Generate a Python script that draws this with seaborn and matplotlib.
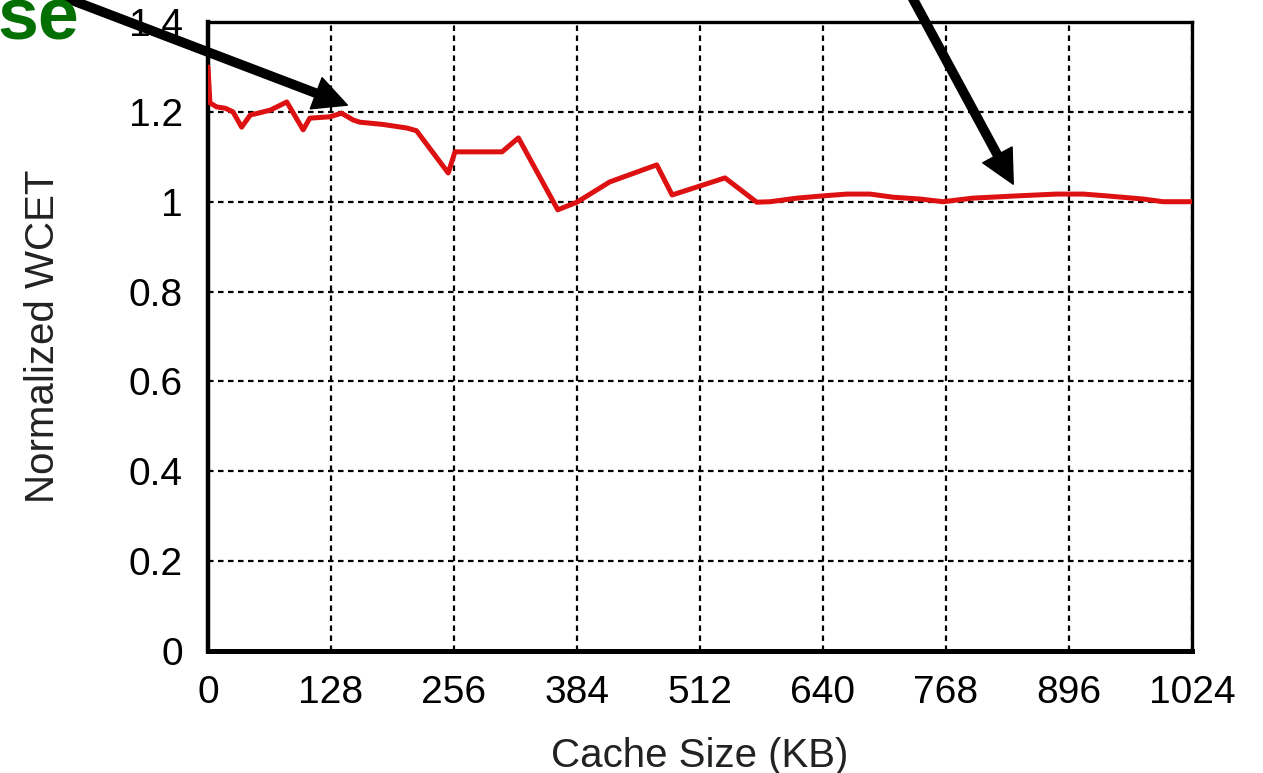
import matplotlib
matplotlib.use("Agg")
import matplotlib.pyplot as plt
import seaborn as sns
import pandas as pd

cache_kb = [0, 2, 9, 18, 26, 35, 44, 52, 65, 82, 99, 106, 127, 139, 151, 158,
            182, 207, 217, 250, 257, 306, 323, 364, 384, 418, 467, 483, 538,
            571, 585, 613, 640, 665, 689, 713, 741, 765, 796, 842, 883, 911,
            935, 973, 994, 1024]
wcet = [1.30, 1.22, 1.211, 1.208, 1.20, 1.166, 1.193, 1.197, 1.204, 1.222,
        1.16, 1.186, 1.189, 1.197, 1.182, 1.177, 1.172, 1.164, 1.158, 1.064,
        1.111, 1.111, 1.142, 0.982, 0.999, 1.044, 1.082, 1.015, 1.053, 0.999,
        1.0, 1.008, 1.013, 1.017, 1.017, 1.01, 1.006, 1.0, 1.008, 1.013,
        1.017, 1.017, 1.013, 1.006, 1.0, 1.0]
x_ticks = [0, 128, 256, 384, 512, 640, 768, 896, 1024]
y_ticks = [0, 0.2, 0.4, 0.6, 0.8, 1.0, 1.2, 1.4]
y_tick_labels = ["0", "0.2", "0.4", "0.6", "0.8", "1", "1.2", "1.4"]

sns.set_style("white")
plt.rcParams["font.family"] = ["Liberation Sans", "DejaVu Sans"]

df = pd.DataFrame({"Cache Size (KB)": cache_kb, "Normalized WCET": wcet})

fig = plt.figure(figsize=(12.63, 7.73), dpi=100)
ax = fig.add_axes([208 / 1263, 1 - 651 / 773, 984 / 1263, 629 / 773])

ax.set_xlim(0, 1024)
ax.set_ylim(0, 1.4)
ax.set_xticks(x_ticks)
ax.set_yticks(y_ticks)
ax.set_yticklabels(y_tick_labels)

ax.grid(True, color="black", linestyle=(0, (2.5, 2)), linewidth=1.6)
ax.set_axisbelow(True)

sns.lineplot(data=df, x="Cache Size (KB)", y="Normalized WCET", ax=ax,
             color="#dd1111", linewidth=3.6, sort=False, zorder=3)

for side, lw in [("left", 3.2), ("bottom", 3.6), ("top", 2.4), ("right", 2.4)]:
    ax.spines[side].set_visible(True)
    ax.spines[side].set_color("black")
    ax.spines[side].set_linewidth(lw)

ax.tick_params(axis="both", length=0, labelsize=28, colors="black")
ax.tick_params(axis="x", pad=17)
ax.tick_params(axis="y", pad=18)
ax.set_xlabel("Cache Size (KB)", fontsize=29, labelpad=19, color="#222222")
ax.set_ylabel("Normalized WCET", fontsize=29, labelpad=48, color="#222222")

fig.text(-0.002, 1 - 39 / 773, "se", color="#047004", fontsize=53,
         fontweight="bold", ha="left", va="baseline")

arrow_kw = dict(facecolor="black", edgecolor="black", width=6,
                headwidth=24, headlength=24, shrink=0)
ax.annotate("", xy=(145, 1.215), xycoords="data",
            xytext=(0.05, 1.004), textcoords="figure fraction",
            arrowprops=arrow_kw, annotation_clip=False)
ax.annotate("", xy=(838, 1.039), xycoords="data",
            xytext=(0.722, 1.004), textcoords="figure fraction",
            arrowprops=arrow_kw, annotation_clip=False)

fig.savefig("out.png", dpi=100)
